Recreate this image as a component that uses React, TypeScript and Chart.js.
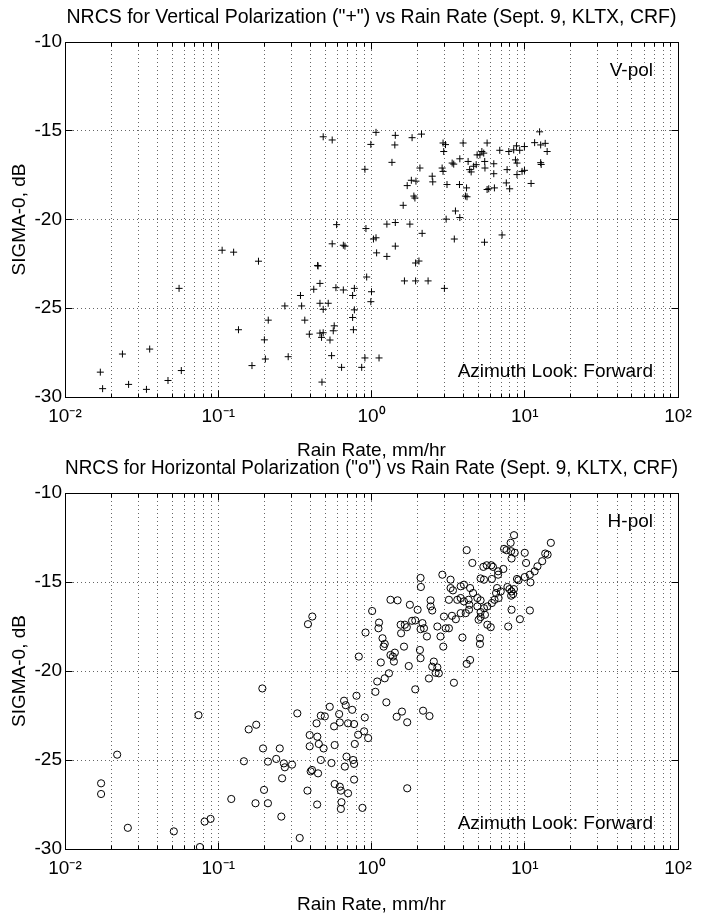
import React, { useEffect, useRef } from 'react';
import { Chart, registerables } from 'chart.js';

Chart.register(...registerables);

const FONT = "'Liberation Sans', Arial, Helvetica, sans-serif";
const GRID = 'rgba(0,0,0,0.6)';

// ---- axis ticks ----
const xDecades = [0.01, 0.1, 1, 10];
const xMinorMantissas = [2, 3, 4, 5, 6, 7, 8, 9];
const xMajorTicks = [0.01, 0.1, 1, 10, 100];
const xMajorLabels = ['10\u207B\u00B2', '10\u207B\u00B9', '10\u2070', '10\u00B9', '10\u00B2'];
const yTicks = [-30, -25, -20, -15, -10];
const yTickLabels = ['-30', '-25', '-20', '-15', '-10'];

// ---- V-pol ("+") : rain rate (mm/hr) and sigma-0 (dB) ----
const vPolRain = [
  0.484, 0.554, 1.07, 0.99, 0.906, 0.592, 0.92, 1.03, 1.07, 0.554, 0.655, 0.671, 1.08,
  0.106, 0.126, 0.183, 0.445, 0.448, 0.93, 0.461, 0.42, 0.586, 0.655, 0.773, 1.0, 0.753,
  0.99, 0.344, 0.0555, 0.272, 0.35, 0.461, 0.522, 0.484, 0.773, 0.753, 0.212, 0.367, 0.571,
  0.563, 0.762, 0.1355, 0.393, 0.461, 0.484, 0.472, 0.536, 0.2, 0.0357, 0.0237, 0.549, 0.203,
  0.286, 0.906, 1.12, 0.638, 0.863, 0.166, 0.017, 0.0574, 0.0176, 0.026, 0.034, 0.047, 0.475,
  1.43, 1.42, 1.84, 2.12, 1.36, 2.07, 2.93, 3.04, 2.96, 3.96, 5.68, 5.25, 5.1, 5.4, 4.89, 6.87,
  7.87, 8.47, 8.83, 9.27, 9.95, 12.5, 11.6, 12.7, 13.6, 14.0, 12.7, 12.8, 11.0, 8.7, 8.9, 9.6,
  9.96, 8.9, 7.67, 6.28, 6.28, 5.48, 5.5, 4.82, 4.64, 4.37, 4.47, 4.27, 3.77, 3.36, 3.44, 2.89,
  2.93, 2.49, 2.51, 1.71, 1.82, 1.95, 3.11, 3.75, 4.17, 4.1, 4.2, 5.68, 5.82, 6.34, 7.58, 7.97,
  1.89, 1.92, 1.61, 3.53, 3.77, 3.07, 1.26, 1.43, 1.78, 2.14, 3.47, 5.46, 7.11, 1.43, 1.26,
  1.94, 2.04, 1.64, 1.94, 2.34, 2.99,
];
const vPolSigma = [
  -15.34, -15.52, -15.09, -15.77, -17.17, -20.29, -20.51, -21.1, -21.03, -21.37, -21.45, -21.5, -21.88,
  -21.73, -21.84, -22.35, -22.59, -22.62, -23.24, -23.6, -23.93, -23.84, -23.97, -23.88, -24.07, -24.28,
  -24.63, -24.28, -23.88, -24.87, -24.87, -24.72, -24.72, -25.06, -25.09, -25.52, -25.67, -25.67, -25.99,
  -26.27, -26.21, -26.21, -26.46, -26.4, -26.38, -26.64, -26.79, -26.78, -27.3, -27.58, -27.67, -27.86,
  -27.73, -27.8, -27.8, -28.33, -28.33, -28.23, -28.6, -28.51, -29.53, -29.29, -29.57, -29.07, -29.16,
  -15.26, -15.8, -15.39, -15.19, -16.78, -17.1, -15.69, -15.78, -16.17, -15.69, -15.69, -16.17, -16.36, -16.26, -16.36, -16.1,
  -16.17, -16.08, -15.85, -16.1, -15.89, -15.06, -15.67, -15.8, -15.71, -16.17, -16.8, -16.9, -17.97, -16.64, -16.82, -17.29,
  -17.23, -17.47, -17.19, -16.86, -17.42, -16.73, -17.1, -16.91, -17.0, -17.19, -17.32, -16.73, -16.58, -16.82, -16.88, -17.1,
  -17.29, -17.56, -17.88, -18.09, -17.79, -17.84, -18.03, -18.03, -18.22, -18.68, -18.72, -18.31, -18.27, -18.22, -17.94, -18.27,
  -18.68, -18.79, -19.2, -19.52, -19.89, -19.98, -20.26, -20.17, -20.26, -20.78, -21.1, -21.28, -20.87, -21.5, -22.08,
  -22.45, -22.34, -23.46, -23.46, -23.46, -23.88,
];

// ---- H-pol ("o") : rain rate (mm/hr) and sigma-0 (dB) ----
const hPolRain = [
  8.51, 8.09, 7.33, 7.6, 8.15, 8.6, 8.2, 10.0, 10.2, 4.18, 14.8, 13.6, 14.1, 4.55, 5.37, 5.65,
  6.05, 6.2, 6.7, 7.25, 6.7, 13.0, 12.1, 11.6, 10.8, 10.0, 2.09, 2.1, 2.9, 3.28, 5.15, 5.42,
  6.1, 10.9, 8.9, 9.1, 7.71, 7.95, 8.2, 8.4, 8.15, 8.5, 3.28, 3.4, 3.82, 4.01, 4.4, 4.6,
  3.2, 3.63, 3.82, 4.01, 4.3, 4.35, 4.91, 5.15, 4.91, 5.42, 5.15, 5.7, 6.1, 6.35, 6.75, 6.5,
  6.97, 6.6, 2.43, 2.43, 2.49, 1.33, 1.78, 8.2, 10.8, 9.3, 7.8, 2.0, 1.93, 1.84, 2.97, 3.35,
  3.55, 3.82, 4.12, 4.33, 5.15, 5.0, 5.5, 6.0, 5.7, 2.69, 3.05, 3.2, 1.55, 1.65, 1.7, 1.56,
  2.15, 2.09, 2.2, 1.18, 1.2, 1.22, 1.48, 3.92, 2.82, 2.94, 5.1, 5.1, 4.4, 4.18, 2.3, 2.55,
  2.49, 2.62, 2.37, 2.75, 2.69, 2.07, 2.09, 1.75, 1.42, 1.38, 1.63, 1.4, 1.33, 1.3, 1.22,
  1.93, 3.45, 1.25, 1.58, 1.46, 1.71, 2.17, 2.39, 1.71,
  1.01, 1.12, 1.11, 0.914, 0.411, 0.385, 0.826, 1.15, 1.09, 1.06, 0.194, 0.798, 0.662, 0.679,
  0.748, 0.534, 0.615, 0.467, 0.496, 0.57, 0.621, 0.703, 0.77, 0.904, 0.438, 0.328, 0.0743,
  0.158, 0.177, 0.818, 0.895, 0.951, 0.395, 0.443, 0.395, 0.453, 0.487, 0.575, 0.778, 0.196,
  0.252, 0.0219, 0.147, 0.211, 0.239, 0.268, 0.272, 0.303, 0.467, 0.548, 0.687, 0.759, 0.77,
  0.67, 0.401, 0.409, 0.448, 0.261, 0.0172, 0.0172, 0.575, 0.621, 0.631, 0.703, 0.77, 0.199,
  0.382, 0.1216, 0.175, 0.211, 0.442, 0.637, 0.631, 0.873, 0.258, 0.0815, 0.0891, 0.0257,
  0.0513, 0.0759, 0.34,
];
const hPolSigma = [
  -12.37, -12.8, -13.14, -13.21, -13.27, -13.36, -13.68, -13.36, -13.93, -13.21, -12.8, -13.4, -13.46, -13.93, -14.15, -14.06,
  -14.06, -14.15, -14.4, -14.27, -14.59, -13.83, -14.12, -14.4, -14.59, -14.72, -14.77, -15.28, -14.59, -14.87, -14.8, -14.87,
  -14.83, -15.02, -14.83, -14.9, -15.28, -15.4, -15.53, -15.68, -15.77, -15.4, -15.34, -15.47, -15.24, -15.15, -15.34, -15.62,
  -16.0, -16.0, -15.9, -16.09, -16.0, -16.28, -15.9, -16.03, -16.37, -16.47, -16.69, -16.37, -16.18, -16.0, -15.9, -15.62,
  -15.53, -15.34, -16.03, -16.37, -16.6, -16.0, -16.28, -16.56, -16.6, -17.09, -17.5, -16.56, -17.16, -17.18, -16.94, -16.9,
  -17.09, -16.75, -16.75, -16.56, -16.97, -17.12, -16.84, -17.54, -17.4, -17.5, -17.6, -17.6, -17.4, -17.4, -17.54, -17.88,
  -17.31, -17.65, -17.6, -18.16, -18.63, -18.48, -16.03, -18.12, -18.06, -18.63, -18.16, -18.48, -19.38, -19.6, -18.06, -19.47,
  -19.76, -20.1, -20.42, -20.13, -19.8, -18.82, -19.28, -19.72, -18.97, -19.19, -18.63, -19.47, -19.1, -20.13, -20.41,
  -21.03, -20.66, -21.76, -22.28, -22.57, -22.88, -22.23, -22.53, -26.59,
  -16.63, -17.28, -17.6, -17.84, -16.94, -17.37, -19.19, -19.52, -20.59, -21.17, -20.98, -21.39, -21.67, -21.92,
  -22.18, -22.01, -22.42, -22.51, -22.55, -23.11, -22.89, -22.94, -22.98, -22.61, -22.94, -22.38, -22.48,
  -23.28, -23.02, -23.58, -23.39, -23.77, -23.6, -23.69, -24.23, -24.1, -24.35, -24.16, -24.1, -24.35,
  -24.35, -24.7, -25.07, -25.09, -24.94, -25.19, -25.41, -25.26, -25.0, -25.17, -24.81, -25.0, -25.22,
  -25.37, -25.64, -25.56, -25.75, -26.03, -26.31, -26.91, -26.35, -26.5, -26.72, -26.87, -26.1, -26.68,
  -26.72, -27.19, -27.43, -27.43, -27.5, -27.37, -27.75, -27.69, -28.18, -28.46, -28.31, -28.81,
  -29.01, -29.89, -29.38,
];

const xMinorTicks = xDecades.flatMap((d) => xMinorMantissas.map((m) => +(m * d).toPrecision(6)));
const xAllTicks = [...xMajorTicks, ...xMinorTicks].sort((a, b) => a - b);

const matlabAxes = {
  id: 'matlabAxes',
  afterDatasetsDraw(chart: any, _args: any, opts: any) {
    const { ctx, chartArea } = chart;
    const { left, right, top, bottom } = chartArea;
    const xs = chart.scales.x;
    const ys = chart.scales.y;
    const al = (v: number) => Math.round(v - 0.5) + 0.5;
    ctx.save();
    ctx.strokeStyle = '#000';
    ctx.lineWidth = 1;
    ctx.setLineDash([]);
    ctx.beginPath();
    const L = al(left), R = al(right), T = al(top), B = al(bottom);
    for (const v of xMajorTicks) {
      const px = al(xs.getPixelForValue(v));
      ctx.moveTo(px, B); ctx.lineTo(px, B - 7);
      ctx.moveTo(px, T); ctx.lineTo(px, T + 7);
    }
    for (const v of xMinorTicks) {
      const px = al(xs.getPixelForValue(v));
      ctx.moveTo(px, B); ctx.lineTo(px, B - 4);
      ctx.moveTo(px, T); ctx.lineTo(px, T + 4);
    }
    for (const v of yTicks) {
      const py = al(ys.getPixelForValue(v));
      ctx.moveTo(L, py); ctx.lineTo(L + 7, py);
      ctx.moveTo(R, py); ctx.lineTo(R - 7, py);
    }
    ctx.stroke();
    ctx.strokeRect(L, T, R - L, B - T);
    ctx.fillStyle = '#000';
    ctx.font = `19px ${FONT}`;
    ctx.textAlign = 'right';
    ctx.textBaseline = 'middle';
    for (const t of opts.texts || []) {
      const y = t.corner === 'top' ? top + 29 : bottom - 25;
      ctx.fillText(t.text, right - 25, y);
    }
    ctx.restore();
  },
};

function makeConfig(p: any): any {
  const tickFont = { family: FONT, size: 19, lineHeight: 1.2 };
  return {
    type: 'scatter',
    data: {
      datasets: [
        {
          data: p.rain.map((x: number, i: number) => ({ x, y: p.sigma[i] })),
          pointStyle: p.pointStyle,
          pointRadius: p.radius,
          pointHoverRadius: p.radius,
          borderColor: '#000',
          backgroundColor: 'rgba(0,0,0,0)',
          pointBorderWidth: 1,
          borderWidth: 1,
        },
      ],
    },
    plugins: [matlabAxes],
    options: {
      animation: false,
      responsive: false,
      maintainAspectRatio: false,
      events: [],
      layout: { padding: { left: 0, right: 25, top: 0, bottom: 0 } },
      plugins: {
        legend: { display: false },
        tooltip: { enabled: false },
        title: {
          display: true,
          text: p.title,
          color: '#000',
          fullSize: false,
          font: { family: FONT, size: 19.5, weight: 'normal', lineHeight: 1.2 },
          padding: p.titlePadding,
        },
        matlabAxes: { texts: p.texts },
      },
      scales: {
        x: {
          type: 'logarithmic',
          position: 'bottom',
          min: 0.01,
          max: 100,
          afterBuildTicks: (s: any) => {
            s.ticks = xAllTicks.map((v) => ({ value: v }));
          },
          afterFit: (s: any) => {
            s.height = p.xAxisHeight;
          },
          ticks: {
            autoSkip: false,
            maxRotation: 0,
            minRotation: 0,
            padding: 8,
            color: '#000',
            font: tickFont,
            callback: (v: any) => {
              const i = xMajorTicks.indexOf(Number(v));
              return i >= 0 ? xMajorLabels[i] : '';
            },
          },
          grid: { color: GRID, lineWidth: 1, drawTicks: false },
          border: { display: false, dash: [1, 3] },
          title: {
            display: true,
            text: 'Rain Rate, mm/hr',
            color: '#000',
            font: { family: FONT, size: 19, lineHeight: 1 },
            padding: { top: 0, bottom: p.xTitlePad },
          },
        },
        y: {
          type: 'linear',
          min: -30,
          max: -10,
          afterBuildTicks: (s: any) => {
            s.ticks = yTicks.map((v) => ({ value: v }));
          },
          afterFit: (s: any) => {
            s.width = 65;
          },
          ticks: {
            padding: 3,
            color: '#000',
            font: tickFont,
            callback: (v: any) => {
              const i = yTicks.indexOf(Number(v));
              return i >= 0 ? yTickLabels[i] : '';
            },
          },
          grid: { color: GRID, lineWidth: 1, drawTicks: false },
          border: { display: false, dash: [1, 3] },
          title: {
            display: true,
            text: 'SIGMA-0, dB',
            color: '#000',
            font: { family: FONT, size: 19, lineHeight: 1.2 },
            padding: { top: 8.6, bottom: 0 },
          },
        },
      },
    },
  };
}

export default function App() {
  const topRef = useRef<HTMLCanvasElement>(null);
  const botRef = useRef<HTMLCanvasElement>(null);

  useEffect(() => {
    const c1 = new Chart(
      topRef.current as HTMLCanvasElement,
      makeConfig({
        title: 'NRCS for Vertical Polarization ("+") vs Rain Rate (Sept. 9, KLTX, CRF)',
        titlePadding: { top: 6.3, bottom: 12.3 },
        xAxisHeight: 65,
        xTitlePad: 1.5,
        rain: vPolRain,
        sigma: vPolSigma,
        pointStyle: 'cross',
        radius: 3.5,
        texts: [
          { text: 'V-pol', corner: 'top' },
          { text: 'Azimuth Look: Forward', corner: 'bottom' },
        ],
      })
    );
    const c2 = new Chart(
      botRef.current as HTMLCanvasElement,
      makeConfig({
        title: 'NRCS for Horizontal Polarization ("o") vs Rain Rate (Sept. 9, KLTX, CRF)',
        titlePadding: { top: 2.3, bottom: 12.3 },
        xAxisHeight: 65,
        xTitlePad: 0,
        rain: hPolRain,
        sigma: hPolSigma,
        pointStyle: 'circle',
        radius: 3.6,
        texts: [
          { text: 'H-pol', corner: 'top' },
          { text: 'Azimuth Look: Forward', corner: 'bottom' },
        ],
      })
    );
    return () => {
      c1.destroy();
      c2.destroy();
    };
  }, []);

  return (
    <div style={{ position: 'absolute', left: 0, top: 0, width: 703, height: 914, background: '#fff' }}>
      <canvas
        ref={topRef}
        width={703}
        height={462}
        style={{ position: 'absolute', left: 0, top: 0, width: 703, height: 462 }}
      />
      <canvas
        ref={botRef}
        width={703}
        height={459}
        style={{ position: 'absolute', left: 0, top: 455, width: 703, height: 459 }}
      />
    </div>
  );
}
